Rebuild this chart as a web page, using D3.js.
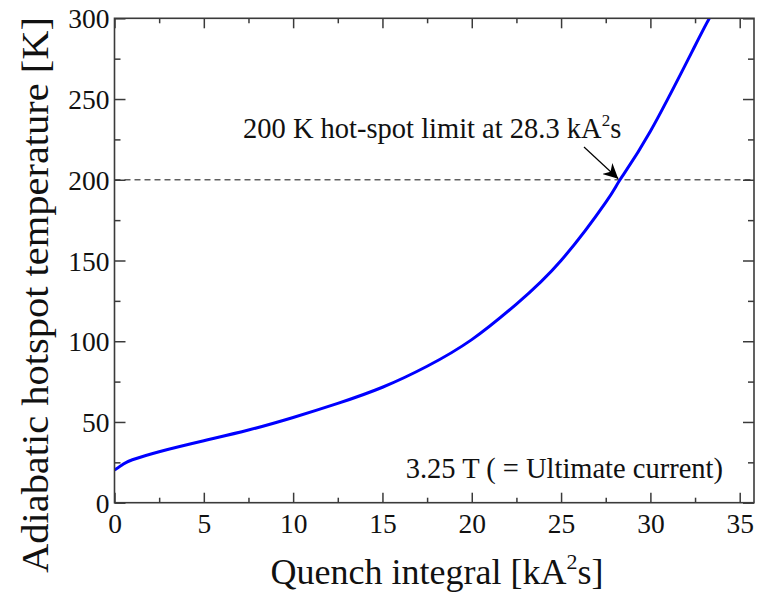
<!DOCTYPE html>
<html><head><meta charset="utf-8">
<script src="https://cdn.jsdelivr.net/npm/d3@7"></script>
<style>body{margin:0;background:#fff}svg{display:block}</style>
</head><body><svg id="c" width="758" height="594"></svg>
<script>
const quench = [0, 0.5, 1, 2.5, 5, 7.5, 10, 12.5, 15, 17.5, 20, 22.5, 25, 27.5, 28.3, 30, 32.5, 33.3, 33.6];
const temp   = [20.2, 24, 26.6, 31.6, 38.4, 45, 52.8, 61.5, 71.5, 84.5, 101, 123, 150, 186, 200, 230, 283, 300, 306];
const xMajor = [0, 5, 10, 15, 20, 25, 30, 35];
const yMajor = [0, 50, 100, 150, 200, 250, 300];
const limitT = 200;

const FONT = "'Liberation Serif', Tinos, 'Times New Roman', 'DejaVu Serif', serif";
const m = {l: 114.5, r: 754, t: 18.3, b: 502.7};
const svg = d3.select("#c").attr("font-family", FONT);
const x = d3.scaleLinear().domain([0, 35.8]).range([m.l, m.r]);
const y = d3.scaleLinear().domain([0, 300]).range([m.b, m.t]);

const xMinor = d3.range(2.5, 35.8, 5);
const yMinor = d3.range(25, 300, 50);

svg.append("clipPath").attr("id","clip").append("rect")
  .attr("x", m.l).attr("y", m.t).attr("width", m.r - m.l).attr("height", m.b - m.t);

// dashed limit line
svg.append("line").attr("x1", m.l).attr("x2", m.r).attr("y1", y(limitT)).attr("y2", y(limitT))
  .attr("stroke", "#606060").attr("stroke-width", 1.5).attr("stroke-dasharray", "6,4");

// curve
const data = quench.map((q, i) => [q, temp[i]]);
svg.append("path").datum(data).attr("clip-path", "url(#clip)")
  .attr("fill", "none").attr("stroke", "#0000ff").attr("stroke-width", 3)
  .attr("d", d3.line().x(d => x(d[0])).y(d => y(d[1])).curve(d3.curveNatural));

// axes with inward ticks
const axCol = "#3a3a3a";
function styleAxis(g) {
  g.attr("font-family", FONT);
  g.select(".domain").remove();
  g.selectAll("line").attr("stroke", axCol).attr("stroke-width", 1.5);
}
const fs = 27.5;
const gb = svg.append("g").attr("transform", `translate(0,${m.b})`)
  .call(d3.axisBottom(x).tickValues(xMajor).tickSize(-10).tickPadding(11).tickFormat(d3.format("d")));
styleAxis(gb);
gb.selectAll("text").attr("font-size", fs).attr("fill", "#111").attr("dy", "0.72em");
svg.append("g").attr("transform", `translate(0,${m.b})`)
  .call(d3.axisBottom(x).tickValues(xMinor).tickSize(-5).tickFormat("")).call(styleAxis);
svg.append("g").attr("transform", `translate(0,${m.t})`)
  .call(d3.axisTop(x).tickValues(xMajor).tickSize(-10).tickFormat("")).call(styleAxis);
svg.append("g").attr("transform", `translate(0,${m.t})`)
  .call(d3.axisTop(x).tickValues(xMinor).tickSize(-5).tickFormat("")).call(styleAxis);

const gl = svg.append("g").attr("transform", `translate(${m.l},0)`)
  .call(d3.axisLeft(y).tickValues(yMajor).tickSize(-11).tickPadding(5).tickFormat(d3.format("d")));
styleAxis(gl);
gl.selectAll("text").attr("font-size", fs).attr("fill", "#111").attr("dy", "0.35em");
svg.append("g").attr("transform", `translate(${m.l},0)`)
  .call(d3.axisLeft(y).tickValues(yMinor).tickSize(-6).tickFormat("")).call(styleAxis);
svg.append("g").attr("transform", `translate(${m.r},0)`)
  .call(d3.axisRight(y).tickValues(yMajor).tickSize(-11).tickFormat("")).call(styleAxis);
svg.append("g").attr("transform", `translate(${m.r},0)`)
  .call(d3.axisRight(y).tickValues(yMinor).tickSize(-6).tickFormat("")).call(styleAxis);

// frame
svg.append("rect").attr("x", m.l).attr("y", m.t).attr("width", m.r - m.l).attr("height", m.b - m.t)
  .attr("fill", "none").attr("stroke", axCol).attr("stroke-width", 1.6);

// axis titles
const xt = svg.append("text").attr("x", 437).attr("y", 584).attr("text-anchor", "middle")
  .attr("font-size", 36).attr("fill", "#111");
xt.append("tspan").text("Quench integral [kA");
xt.append("tspan").text("2").attr("font-size", 22).attr("dy", -15);
xt.append("tspan").text("s]").attr("dy", 15);

svg.append("text").attr("transform", `translate(48,295) rotate(-90)`)
  .attr("text-anchor", "middle").attr("font-size", 37).attr("fill", "#111")
  .attr("textLength", 556).attr("lengthAdjust", "spacingAndGlyphs")
  .text("Adiabatic hotspot temperature [K]");

// annotations
const an = svg.append("text").attr("x", 243).attr("y", 138).attr("font-size", 28.5).attr("fill", "#111");
an.append("tspan").text("200 K hot-spot limit at 28.3 kA");
an.append("tspan").text("2").attr("font-size", 17).attr("dy", -12);
an.append("tspan").text("s").attr("dy", 12);

svg.append("text").attr("x", 723).attr("y", 478).attr("text-anchor", "end").attr("font-size", 28.5)
  .attr("fill", "#111").text("3.25 T ( = Ultimate current)");

// arrow
svg.append("defs").append("marker").attr("id", "ah").attr("viewBox", "0 0 10 10")
  .attr("refX", 10).attr("refY", 5).attr("markerWidth", 15).attr("markerHeight", 15)
  .attr("markerUnits", "userSpaceOnUse").attr("orient", "auto")
  .append("path").attr("d", "M0,0 L10,5 L0,10 L3,5 Z").attr("fill", "#000");
svg.append("line").attr("x1", 584).attr("y1", 147).attr("x2", x(28.2)).attr("y2", y(limitT) - 1)
  .attr("stroke", "#000").attr("stroke-width", 1.2).attr("marker-end", "url(#ah)");
</script></body></html>
